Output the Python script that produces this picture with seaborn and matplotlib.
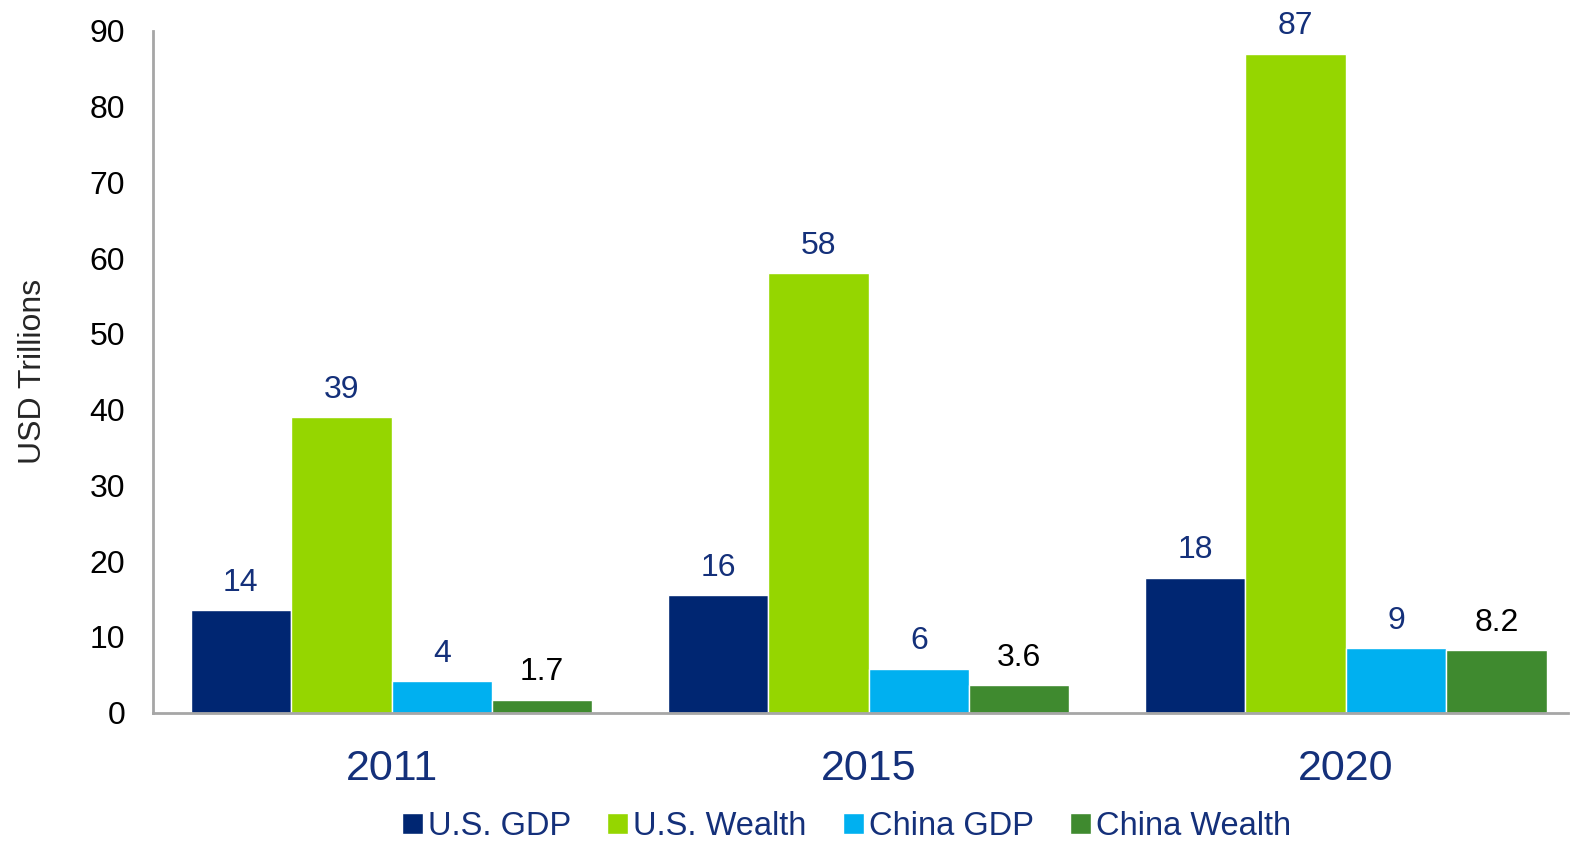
import pandas as pd
import seaborn as sns
import matplotlib.pyplot as plt

years = ['2011', '2015', '2020']
series = ['U.S. GDP', 'U.S. Wealth', 'China GDP', 'China Wealth']
us_gdp = [13.5, 15.5, 17.8]
us_wealth = [39, 58, 87]
china_gdp = [4.1, 5.8, 8.5]
china_wealth = [1.7, 3.6, 8.2]
# printed labels (rounded as in the source)
bar_text = [['14', '16', '18'], ['39', '58', '87'], ['4', '6', '9'], ['1.7', '3.6', '8.2']]

colors = ['#002672', '#95D600', '#00B0F0', '#3F8A2F']
label_colors = ['#14307A', '#14307A', '#14307A', 'black']
navy = '#14307A'

rows = []
for name, vals in zip(series, [us_gdp, us_wealth, china_gdp, china_wealth]):
    for y, v in zip(years, vals):
        rows.append({'year': y, 'series': name, 'value': v})
data = pd.DataFrame(rows)

sns.set_style('white')
plt.rcParams['font.family'] = ['Liberation Sans', 'DejaVu Sans']

fig = plt.figure(figsize=(15.72, 8.44), dpi=100)
ax = fig.add_axes([0.0973, 0.1558, 0.9002, 0.8075])

sns.barplot(data=data, x='year', y='value', hue='series', hue_order=series,
            palette=colors, width=0.842, saturation=1, ax=ax, errorbar=None)

for cont, txt, c in zip(ax.containers, bar_text, label_colors):
    ax.bar_label(cont, labels=txt, padding=9, fontsize=23, color=c)

ax.set_ylim(0, 90)
ax.set_xlim(-0.5, 2.466)
ax.set_yticks(range(0, 91, 10))
ax.tick_params(axis='y', labelsize=23, length=0, pad=20, labelcolor='black')
ax.tick_params(axis='x', labelsize=31, length=0, pad=26, labelcolor=navy)
ax.set_xlabel('')
ax.set_ylabel('USD Trillions', fontsize=23, labelpad=30)

for s in ['top', 'right']:
    ax.spines[s].set_visible(False)
for s in ['left', 'bottom']:
    ax.spines[s].set_color('#A6A6A6')
    ax.spines[s].set_linewidth(2)

leg = ax.legend(loc='lower center', bbox_to_anchor=(0.49, -0.233), ncol=4, frameon=False,
                fontsize=23.5, handlelength=0.65, handleheight=0.65, handletextpad=0.15,
                columnspacing=1.1)
for t in leg.get_texts():
    t.set_color(navy)

fig.savefig('out.png', dpi=100)
